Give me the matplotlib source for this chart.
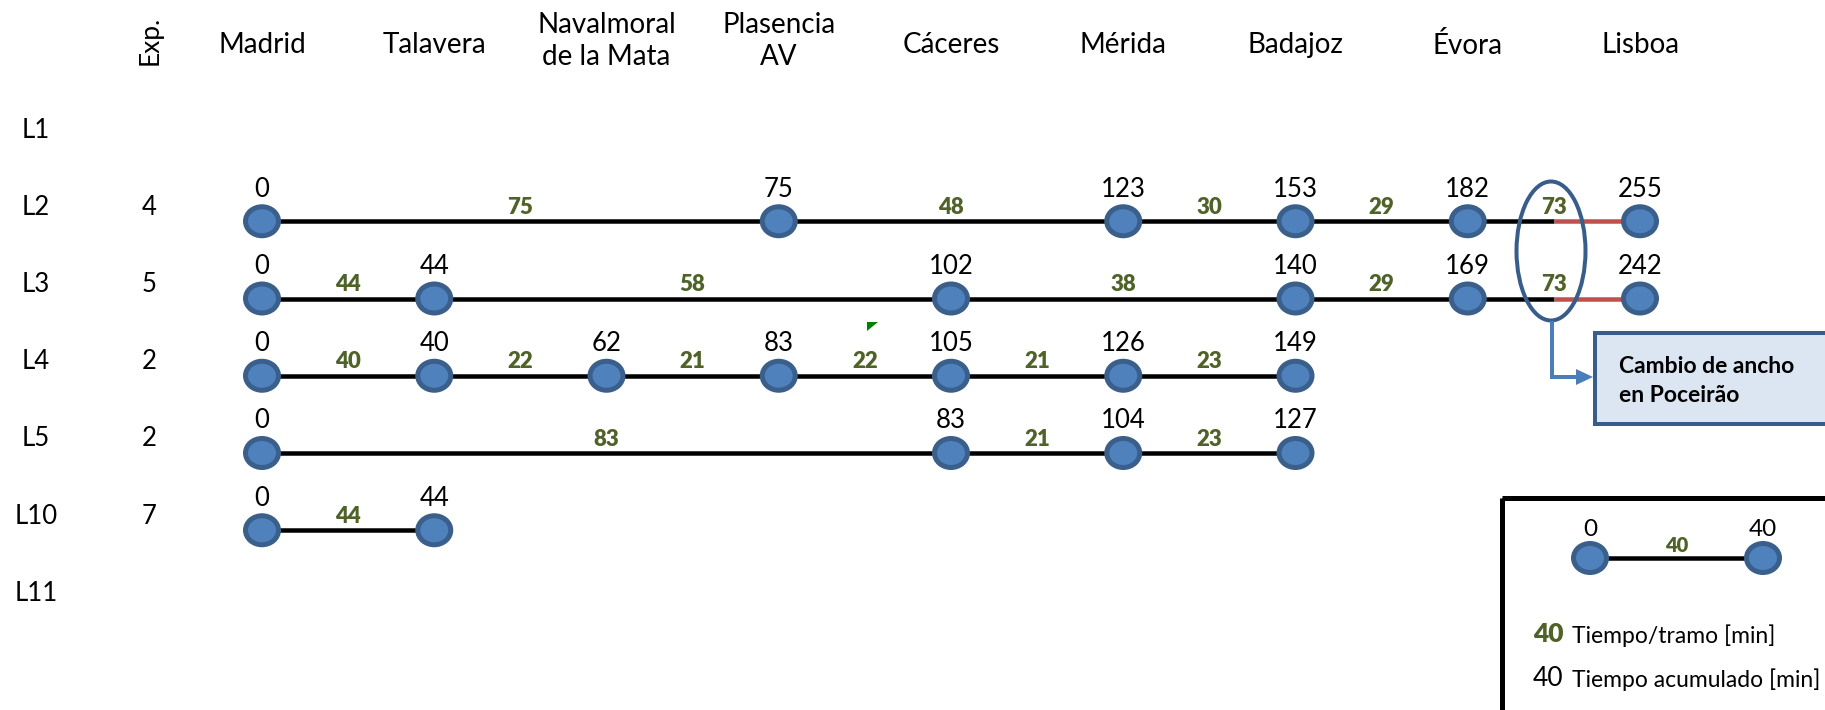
import numpy as np
import matplotlib
matplotlib.use('Agg')
import matplotlib.pyplot as plt
from matplotlib.patches import Ellipse, Rectangle, Polygon

plt.rcParams['font.family'] = ['Lato', 'DejaVu Sans']

# stations (columns) and lines (rows)
stations = ['Madrid', 'Talavera', 'Navalmoral\nde la Mata', 'Plasencia\nAV', 'Cáceres',
            'Mérida', 'Badajoz', 'Évora', 'Lisboa']
line_names = ['L1', 'L2', 'L3', 'L4', 'L5', 'L10', 'L11']
exp_values = [None, 4, 5, 2, 2, 7, None]

# stops (station index) and accumulated time per line
stops = {
    'L2': [0, 3, 5, 6, 7, 8],
    'L3': [0, 1, 4, 6, 7, 8],
    'L4': [0, 1, 2, 3, 4, 5, 6],
    'L5': [0, 4, 5, 6],
    'L10': [0, 1],
}
acc_time = {
    'L2': [0, 75, 123, 153, 182, 255],
    'L3': [0, 44, 102, 140, 169, 242],
    'L4': [0, 40, 62, 83, 105, 126, 149],
    'L5': [0, 83, 104, 127],
    'L10': [0, 44],
}
seg_time = {
    'L2': [75, 48, 30, 29, 73],
    'L3': [44, 58, 38, 29, 73],
    'L4': [40, 22, 21, 22, 21, 23],
    'L5': [83, 21, 23],
    'L10': [44],
}
gauge_change = ['L2', 'L3']   # last section changes gauge at Poceirão
legend_acc = [0, 40]
legend_seg = 40

# colours
GREEN = '#4F6228'
NODE_FACE = '#4F81BD'
NODE_EDGE = '#3A5F8B'
RED = '#C0504D'
BOX_EDGE = '#385D8A'
ARROW = '#4A7EBB'

# layout in pixels
W, H = 1825, 710
X0, DX = 262, 172.25   # first column, column spacing
Y0, DY = 144, 77.25    # first row node, row spacing

def fx(p):
    return (p - X0) / DX

def fy(p):
    return (p - Y0) / DY

PX = 1 / DX
PY = 1 / DY
LW = 0.72  # points per pixel at dpi 100

fig = plt.figure(figsize=(W / 100, H / 100), dpi=100)
ax = fig.add_axes([0, 0, 1, 1])
ax.set_xlim(fx(0), fx(W))
ax.set_ylim(fy(H), fy(0))
ax.axis('off')

# header
for i, name in enumerate(stations):
    if '\n' in name:
        ax.text(i, fy(41), name, ha='center', va='center', fontsize=20, linespacing=1.25)
    else:
        ax.text(i, fy(45), name, ha='center', va='center', fontsize=20)
ax.text(fx(150), fy(40), 'Exp.', ha='center', va='center', fontsize=19, rotation=90)

# row labels
for r, name in enumerate(line_names):
    ax.text(fx(36), r - 14 * PY, name, ha='center', va='center', fontsize=18.5)
    if exp_values[r] is not None:
        ax.text(fx(149), r - 14 * PY, str(exp_values[r]), ha='center', va='center', fontsize=18.5)

node_w, node_h = 33 * PX, 29 * PY

def draw_node(x, y):
    ax.add_patch(Ellipse((x, y), node_w, node_h, facecolor=NODE_FACE, edgecolor=NODE_EDGE,
                         lw=5 * LW, zorder=3))

for name, st in stops.items():
    r = line_names.index(name)
    for k in range(len(st) - 1):
        a, b = st[k], st[k + 1]
        last = k == len(st) - 2
        if last and name in gauge_change:
            m = (a + b) / 2
            ax.plot([a, m], [r, r], color='black', lw=4.5 * LW, zorder=1, solid_capstyle='butt')
            ax.plot([m, b], [r, r], color=RED, lw=4.5 * LW, zorder=1, solid_capstyle='butt')
        else:
            ax.plot([a, b], [r, r], color='black', lw=4.5 * LW, zorder=1, solid_capstyle='butt')
        ax.text((a + b) / 2, r - 14 * PY, str(seg_time[name][k]), ha='center', va='center',
                fontsize=16, fontweight='heavy', color=GREEN)
    for s, t in zip(st, acc_time[name]):
        draw_node(s, r)
        ax.text(s, r - 32 * PY, str(t), ha='center', va='center', fontsize=18.5)

# small green marker (cell indicator)
ax.add_patch(Polygon([(fx(867), fy(322)), (fx(878), fy(322)), (fx(867), fy(331))],
                     closed=True, color='#008000', lw=0, zorder=2))

# gauge change highlight
ax.add_patch(Ellipse((fx(1551), fy(251)), 69 * PX, 139 * PY, fill=False,
                     edgecolor=BOX_EDGE, lw=4 * LW, zorder=4))
ax.plot([fx(1552), fx(1552), fx(1578)], [fy(323), fy(377), fy(377)], color=ARROW,
        lw=4 * LW, solid_joinstyle='miter', zorder=4)
ax.add_patch(Polygon([(fx(1576), fy(369)), (fx(1593), fy(377)), (fx(1576), fy(385))],
                     closed=True, color=ARROW, lw=0, zorder=4))
ax.add_patch(Rectangle((fx(1595), fy(333)), 260 * PX, 91 * PY, facecolor='#DCE6F2',
                       edgecolor=BOX_EDGE, lw=4 * LW, zorder=4))
ax.text(fx(1619), fy(381), 'Cambio de ancho\nen Poceirão', ha='left', va='center',
        fontsize=16.5, fontweight='bold', linespacing=1.45, zorder=5)

# legend box
ax.add_patch(Rectangle((fx(1502), fy(498)), 400 * PX, 300 * PY, fill=False,
                       edgecolor='black', lw=5 * LW, zorder=4))
lx = [fx(1590), fx(1763)]
ly = fy(558)
ax.plot(lx, [ly, ly], color='black', lw=4.5 * LW, zorder=1, solid_capstyle='butt')
for x, t in zip(lx, legend_acc):
    draw_node(x, ly)
    ax.text(x, ly - 28 * PY, str(t), ha='center', va='center', fontsize=17.5)
ax.text((lx[0] + lx[1]) / 2, ly - 13 * PY, str(legend_seg), ha='center', va='center',
        fontsize=14.5, fontweight='heavy', color=GREEN)
ax.text(fx(1533), fy(634), str(legend_seg), ha='left', va='center', fontsize=19,
        fontweight='heavy', color=GREEN)
ax.text(fx(1572), fy(636), 'Tiempo/tramo [min]', ha='left', va='center', fontsize=16.5)
ax.text(fx(1533), fy(678), str(legend_acc[1]), ha='left', va='center', fontsize=19)
ax.text(fx(1572), fy(680), 'Tiempo acumulado [min]', ha='left', va='center', fontsize=16.5)

fig.savefig('out.png', dpi=100)
